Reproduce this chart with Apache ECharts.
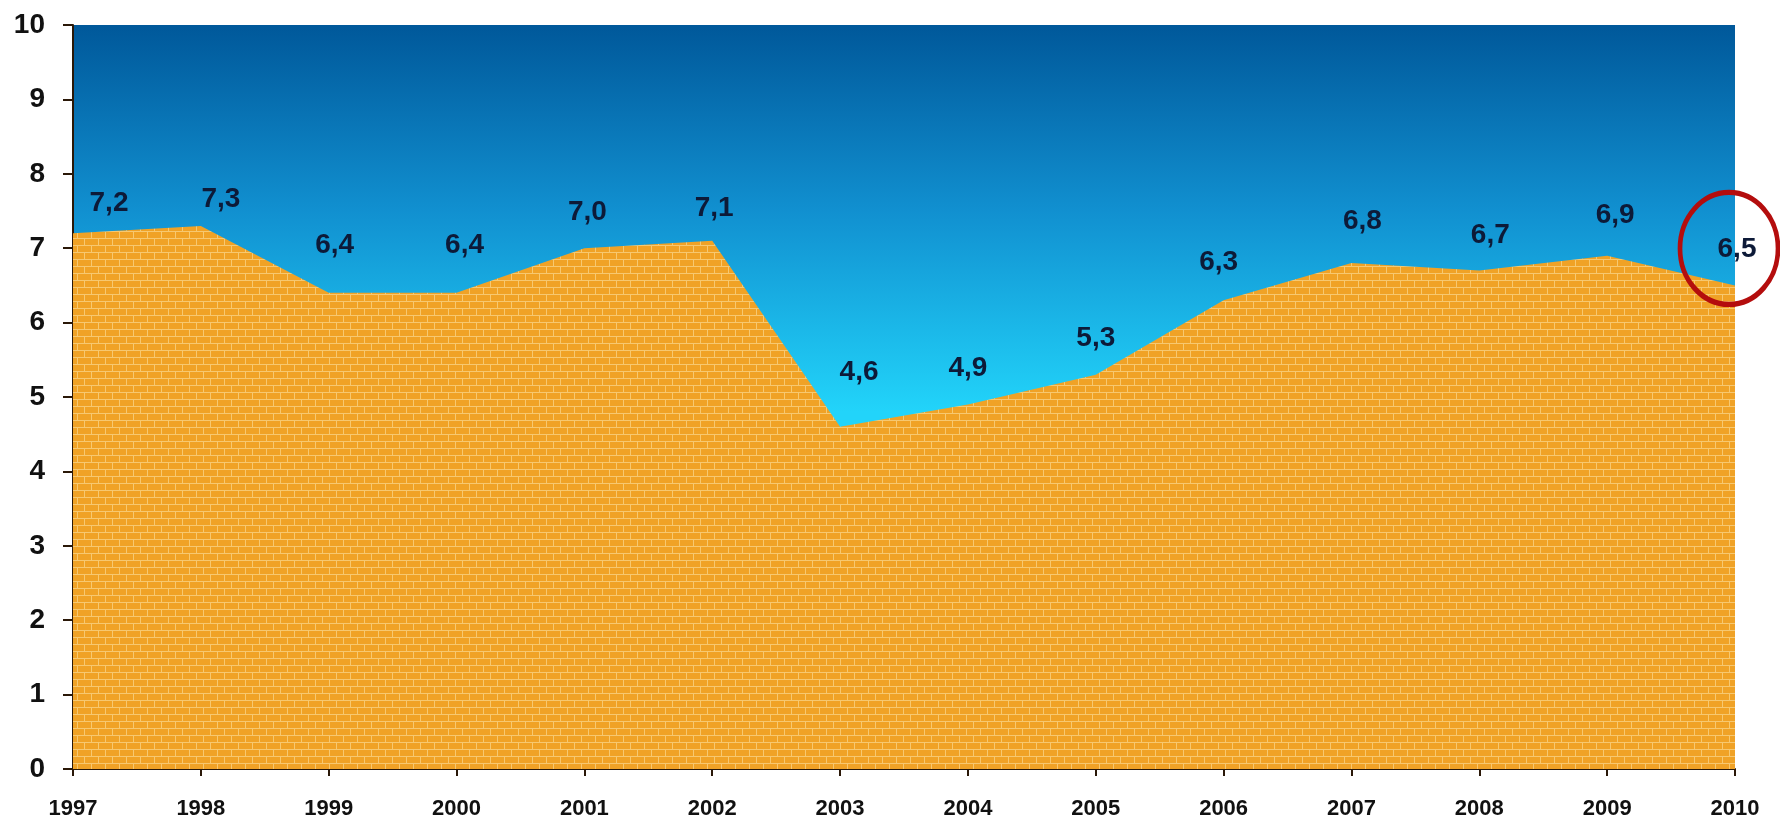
<!DOCTYPE html>
<html>
<head>
<meta charset="utf-8">
<script src="https://cdn.jsdelivr.net/npm/echarts@6/dist/echarts.min.js"></script>
<style>
  html, body { margin: 0; padding: 0; background: #fff; }
  #chart { width: 1780px; height: 820px; }
</style>
</head>
<body>
<div id="chart"></div>
<script>
const years = ['1997', '1998', '1999', '2000', '2001', '2002', '2003',
  '2004', '2005', '2006', '2007', '2008', '2009', '2010'];
const values = [7.2, 7.3, 6.4, 6.4, 7.0, 7.1, 4.6, 4.9, 5.3, 6.3, 6.8, 6.7, 6.9, 6.5];
const yTicks = [0, 1, 2, 3, 4, 5, 6, 7, 8, 9, 10];
const highlightYear = '2010';

// label nudges (px) the original chart has, labels were placed by hand
const labelNudge = [
  [36, -30], [20, -27], [6, -48], [8, -48], [3, -36], [2, -32], [19, -54],
  [0, -36], [0, -36], [-5, -38], [11, -42], [11, -35], [8, -40], [2, -36]
];

// brick texture for the area
function brickPattern() {
  const c = document.createElement('canvas');
  c.width = 14;
  c.height = 14;
  const g = c.getContext('2d');
  g.fillStyle = '#f0a226';
  g.fillRect(0, 0, 14, 14);
  g.fillStyle = '#f7c870';
  g.fillRect(0, 0, 14, 1);
  g.fillRect(0, 7, 14, 1);
  g.fillRect(0, 0, 1, 7);
  g.fillRect(7, 7, 1, 7);
  return c;
}

const chart = echarts.init(document.getElementById('chart'));
chart.setOption({
  animation: false,
  grid: {
    left: 73,
    right: 45,
    top: 25,
    bottom: 51,
    show: true,
    borderWidth: 0,
    backgroundColor: {
      type: 'linear',
      x: 0, y: 0, x2: 0, y2: 1,
      colorStops: [
        { offset: 0, color: '#00589a' },
        { offset: 0.25, color: '#1190d0' },
        { offset: 0.52, color: '#22d4fa' },
        { offset: 1, color: '#22d4fa' },
      ],
    },
  },
  xAxis: {
    type: 'category',
    data: years,
    boundaryGap: false,
    axisLine: { lineStyle: { color: '#2a1808', width: 2 } },
    axisTick: { show: true, length: 7, lineStyle: { color: '#2a1808', width: 2 } },
    axisLabel: {
      color: '#111',
      fontFamily: 'Liberation Sans',
      fontWeight: 'bold',
      fontSize: 22,
      margin: 29,
      interval: 0,
    },
  },
  yAxis: {
    type: 'value',
    min: yTicks[0],
    max: yTicks[yTicks.length - 1],
    interval: 1,
    splitLine: { show: false },
    axisLine: { show: true, lineStyle: { color: '#2a1808', width: 2 } },
    axisTick: { show: true, length: 10, lineStyle: { color: '#2a1808', width: 2 } },
    axisLabel: {
      color: '#111',
      fontFamily: 'Liberation Sans',
      fontWeight: 'bold',
      fontSize: 28,
      margin: 28,
    },
  },
  series: [
    {
      type: 'line',
      data: values.map((v, i) => ({
        value: v,
        label: { offset: labelNudge[i] },
      })),
      symbol: 'circle',
      symbolSize: 1,
      itemStyle: { color: 'rgba(0,0,0,0)' },
      lineStyle: { width: 0 },
      areaStyle: {
        color: { image: brickPattern(), repeat: 'repeat' },
        opacity: 1,
      },
      label: {
        show: true,
        position: 'inside',
        color: '#0d1a38',
        fontFamily: 'Liberation Sans',
        fontWeight: 'bold',
        fontSize: 28,
        formatter: (p) => p.value.toFixed(1).replace('.', ','),
      },
      markPoint: {
        symbol: 'circle',
        symbolSize: [98, 112],
        symbolOffset: [-6, -37],
        silent: true,
        label: { show: false },
        itemStyle: {
          color: 'rgba(0,0,0,0)',
          borderColor: '#b40d0d',
          borderWidth: 5,
        },
        data: [{ coord: [highlightYear, values[years.indexOf(highlightYear)]] }],
      },
    },
  ],
});
</script>
</body>
</html>
